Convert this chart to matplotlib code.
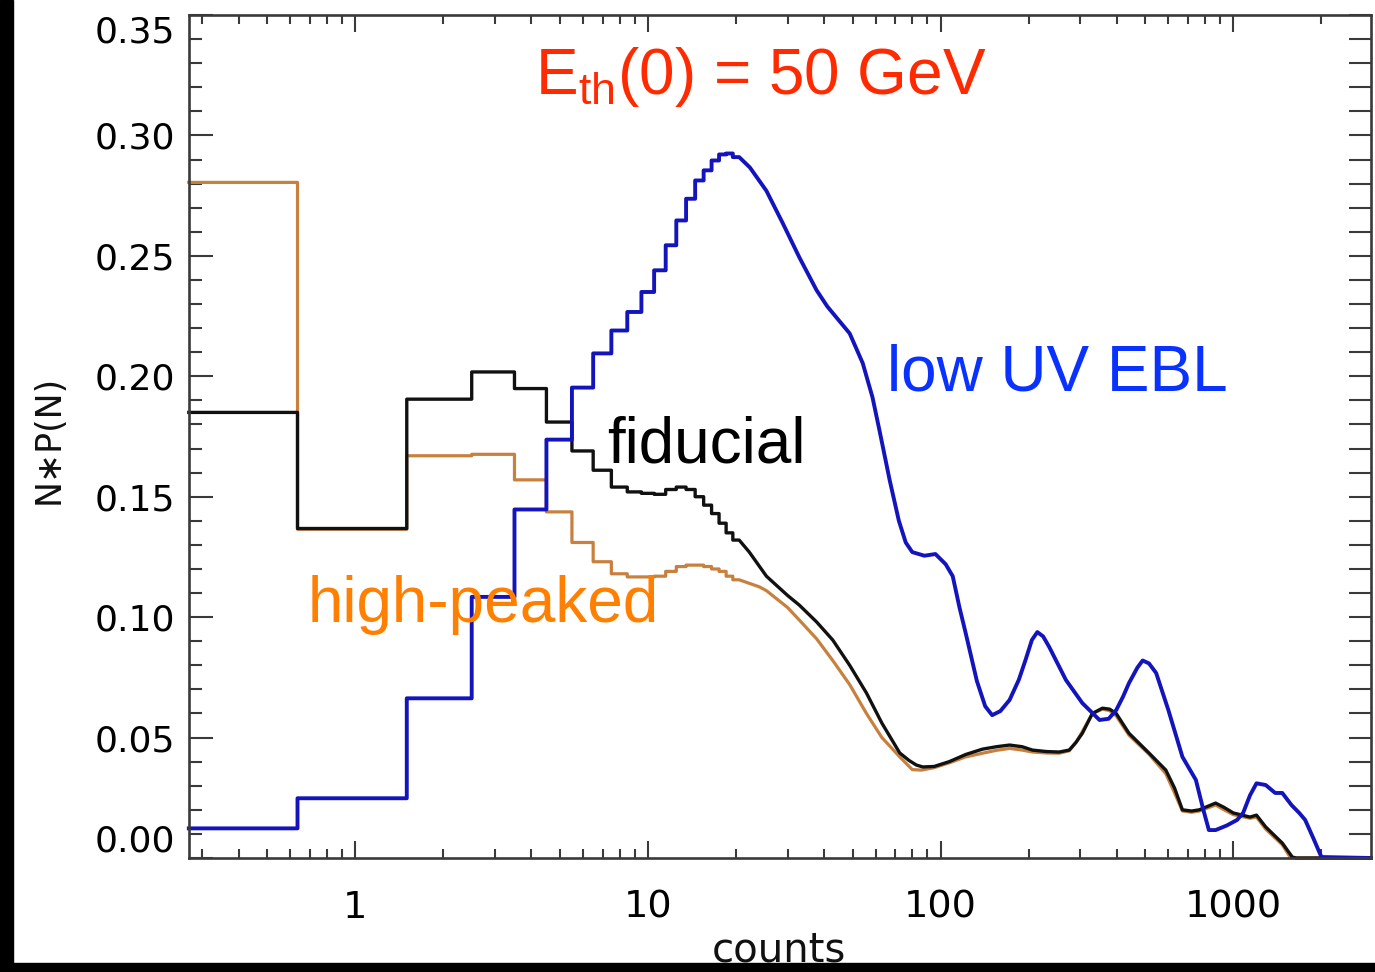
import numpy as np
import matplotlib
matplotlib.use("Agg")
import matplotlib.pyplot as plt
from matplotlib.ticker import FixedLocator, LogLocator, MultipleLocator, NullFormatter
from matplotlib.patches import Rectangle

# ---------------------------------------------------------------- data
XMIN, XMAX = 0.27, 2954.0          # N = 0 bin is drawn at the left edge
YMIN, YMAX = 0.0, 0.35

# histogram part: N = 0 .. 20 (N = 0 placed at XMIN)
step_counts = [XMIN] + list(range(1, 21))

fiducial_steps = [0.185, 0.1368, 0.1905, 0.2018, 0.1949, 0.181, 0.169, 0.161,
                  0.154, 0.152, 0.1514, 0.151, 0.153, 0.154, 0.153, 0.150,
                  0.1465, 0.143, 0.139, 0.135, 0.132]
highpk_steps = [0.2805, 0.1365, 0.167, 0.1676, 0.157, 0.1437, 0.131, 0.123,
                0.118, 0.1167, 0.1167, 0.117, 0.119, 0.121, 0.1216, 0.1216,
                0.121, 0.120, 0.119, 0.117, 0.1155]
lowuv_steps = [0.0123, 0.0248, 0.0663, 0.1084, 0.1447, 0.1737, 0.1953, 0.2095,
               0.219, 0.2267, 0.235, 0.244, 0.2544, 0.2647, 0.2737, 0.2813,
               0.2855, 0.2896, 0.2921, 0.2925, 0.291]

# smooth high-count part
fiducial_tail_n = [22.2, 25.4, 30, 32.9, 37.7, 42.8, 48.9, 55.8, 63, 72.5, 78,
                   82.6, 86.9, 95, 107, 122, 139, 155, 172, 190, 206, 230, 254,
                   275, 290, 305, 330, 357, 378, 398, 440, 516, 588, 630, 670,
                   720, 765, 870, 930, 1000, 1140, 1200, 1290, 1470, 1590, 1640,
                   2954]
fiducial_tail_v = [0.127, 0.117, 0.109, 0.105, 0.098, 0.0905, 0.080, 0.0685,
                   0.056, 0.0436, 0.0405, 0.0386, 0.0378, 0.038, 0.040, 0.043,
                   0.0452, 0.0462, 0.0469, 0.0462, 0.0448, 0.0442, 0.044,
                   0.0448, 0.048, 0.0518, 0.060, 0.0622, 0.0618, 0.060, 0.0518,
                   0.0435, 0.0365, 0.029, 0.020, 0.0195, 0.020, 0.0228, 0.021,
                   0.0187, 0.017, 0.0178, 0.0129, 0.0062, 0.0004, 0.0, 0.0]

highpk_tail_n = [24, 25.4, 30, 32.9, 37.7, 42.8, 48.9, 55.8, 63, 72.5, 80, 86,
                 95, 107, 122, 139, 155, 172, 190, 206, 230, 254, 275, 290, 305,
                 330, 357, 378, 398, 440, 516, 588, 630, 670, 720, 765, 870,
                 930, 1000, 1140, 1200, 1290, 1470, 1570, 2954]
highpk_tail_v = [0.1126, 0.111, 0.104, 0.0988, 0.091, 0.082, 0.072, 0.060,
                 0.050, 0.042, 0.0367, 0.0365, 0.0375, 0.0395, 0.042, 0.0435,
                 0.0447, 0.0455, 0.0448, 0.044, 0.0436, 0.0435, 0.0445, 0.048,
                 0.0525, 0.060, 0.0618, 0.0612, 0.059, 0.051, 0.043, 0.035,
                 0.027, 0.0195, 0.019, 0.0195, 0.022, 0.020, 0.018, 0.0165,
                 0.017, 0.012, 0.0055, 0.0, 0.0]

lowuv_tail_n = [22.3, 25.4, 28.9, 32.9, 37.7, 41, 44, 48.9, 54.2, 58.5, 61.8,
                67, 72, 76, 80, 88, 96, 104, 110, 116, 122, 133, 142, 150, 160,
                172, 185, 195, 205, 214, 224, 235, 268, 305, 349, 375, 398, 420,
                440, 470, 490, 515, 545, 600, 670, 745, 790, 825, 870, 950,
                1030, 1080, 1140, 1200, 1290, 1390, 1470, 1580, 1680, 1760,
                1880, 2000, 2954]
lowuv_tail_v = [0.2867, 0.277, 0.2635, 0.2494, 0.2357, 0.229, 0.2245, 0.2178,
                0.2054, 0.1913, 0.1776, 0.1568, 0.140, 0.131, 0.127, 0.1255,
                0.1262, 0.122, 0.117, 0.104, 0.093, 0.0735, 0.063, 0.0593,
                0.061, 0.0656, 0.074, 0.0822, 0.0905, 0.0938, 0.092, 0.0876,
                0.0739, 0.0643, 0.0573, 0.0578, 0.0614, 0.067, 0.0726, 0.079,
                0.082, 0.0808, 0.0768, 0.0614, 0.042, 0.0324, 0.020, 0.0116,
                0.0116, 0.0135, 0.0158, 0.0187, 0.026, 0.031, 0.0303, 0.027,
                0.027, 0.022, 0.0187, 0.0158, 0.008, 0.0004, 0.0]

x_tick_values = [1, 10, 100, 1000]
x_tick_labels = ["1", "10", "100", "1000"]
y_tick_values = [0.00, 0.05, 0.10, 0.15, 0.20, 0.25, 0.30, 0.35]
y_tick_labels = ["0.00", "0.05", "0.10", "0.15", "0.20", "0.25", "0.30", "0.35"]

BLUE_LINE = "#1414bc"
ORANGE_LINE = "#c8803e"
BLACK_LINE = "#111111"


def histogram_path(centres, values, tail_n, tail_v):
    """psym=10 style steps (edges half-way between points), then a plain line."""
    c = np.asarray(centres, dtype=float)
    v = np.asarray(values, dtype=float)
    edges = np.concatenate([[c[0]], 0.5 * (c[1:] + c[:-1]), [c[-1] + 0.5]])
    xs = np.repeat(edges, 2)[1:-1]
    ys = np.repeat(v, 2)
    xs = np.concatenate([xs, tail_n])
    ys = np.concatenate([ys, tail_v])
    return xs, ys


fig = plt.figure(figsize=(13.75, 9.72), dpi=100)
ax = fig.add_axes([188.8 / 1375, 1 - 858 / 972, (1371 - 188.8) / 1375, (858 - 15) / 972])

for steps, tn, tv, col, lw in [
    (highpk_steps, highpk_tail_n, highpk_tail_v, ORANGE_LINE, 2.3),
    (fiducial_steps, fiducial_tail_n, fiducial_tail_v, BLACK_LINE, 2.4),
    (lowuv_steps, lowuv_tail_n, lowuv_tail_v, BLUE_LINE, 2.8),
]:
    xs, ys = histogram_path(step_counts, steps, tn, tv)
    ax.plot(xs, ys, color=col, lw=lw, solid_joinstyle="round", clip_on=False)

ax.set_xscale("log")
ax.set_xlim(XMIN, XMAX)
ax.set_ylim(YMIN, YMAX)

ax.xaxis.set_major_locator(FixedLocator(x_tick_values))
ax.set_xticklabels(x_tick_labels)
ax.xaxis.set_minor_locator(LogLocator(base=10, subs=np.arange(2, 10)))
ax.xaxis.set_minor_formatter(NullFormatter())
ax.set_yticks(y_tick_values)
ax.set_yticklabels(y_tick_labels)
ax.yaxis.set_minor_locator(MultipleLocator(0.01))

spine_col = "#3a3a3a"
for s in ax.spines.values():
    s.set_linewidth(1.9)
    s.set_color(spine_col)

ax.tick_params(axis="both", which="both", direction="in", top=True, right=False,
               color=spine_col, width=1.5)
ax.tick_params(axis="y", which="major", length=17, pad=10, labelsize=26)
ax.tick_params(axis="y", which="minor", length=9.5)
ax.tick_params(axis="x", which="major", length=12.5, pad=23, labelsize=27.5)
ax.tick_params(axis="x", which="minor", length=6.5)
for lab in ax.get_yticklabels() + ax.get_xticklabels():
    lab.set_fontfamily("DejaVu Sans")
ylabs = ax.get_yticklabels()
ylabs[0].set_verticalalignment("bottom")
ylabs[-1].set_verticalalignment("top")

# right-hand axis: evenly sized ticks every 0.01
rax = ax.twinx()
rax.set_ylim(YMIN, YMAX)
rax.yaxis.set_major_locator(MultipleLocator(0.01))
rax.tick_params(axis="y", which="major", direction="in", length=16, width=1.5,
                color=spine_col, labelright=False)
for s in rax.spines.values():
    s.set_visible(False)

fig.text(49 / 1375, 1 - 439 / 972, "N\u2217P(N)", rotation=90, ha="center",
         va="center", fontsize=25, family="DejaVu Sans", color="#111111")
fig.text(779 / 1375, 1 - 961 / 972, "counts", ha="center", va="baseline",
         fontsize=29, family="DejaVu Sans", color="#111111")

ann = dict(fontsize=46, family="Liberation Sans", ha="left", va="baseline")
ax.text(4.115, 0.3174, r"E$_\mathregular{th}$(0) = 50 GeV", color="#ff2a00", **ann)
ax.text(65.6, 0.1942, "low UV EBL", color="#0a32ff", **ann)
ax.text(7.25, 0.1644, "fiducial", color="black", **ann)
ax.text(0.690, 0.0980, "high-peaked", color="#ff7f00", **ann)

# dark border strips along the left and bottom edges
fig.patches.append(Rectangle((0, 0), 12.5 / 1375, 1, transform=fig.transFigure,
                             color="black", zorder=10))
fig.patches.append(Rectangle((0, 0), 1, 9 / 972, transform=fig.transFigure,
                             color="black", zorder=10))

fig.savefig("out.png", dpi=100)
